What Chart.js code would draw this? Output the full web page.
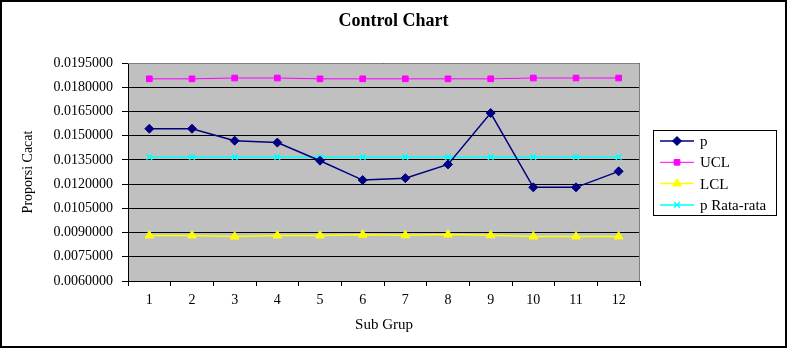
<!DOCTYPE html>
<html>
<head>
<meta charset="utf-8">
<script src="https://cdn.jsdelivr.net/npm/chart.js@4.4.0/dist/chart.umd.min.js"></script>
<style>
  html, body { margin: 0; padding: 0; background: #fff; }
  #wrap { position: relative; width: 787px; height: 348px; }
</style>
</head>
<body>
<div id="wrap"><canvas id="mainChart" width="787" height="348"></canvas></div>
<script>
const subGroups = ['1', '2', '3', '4', '5', '6', '7', '8', '9', '10', '11', '12'];
const pValues = [0.01543, 0.01543, 0.01469, 0.01457, 0.01345, 0.01225, 0.01237, 0.01322, 0.01640, 0.01180, 0.01180, 0.01279];
const uclValues = [0.01852, 0.01852, 0.01857, 0.01857, 0.01852, 0.01852, 0.01852, 0.01852, 0.01852, 0.01857, 0.01857, 0.01857];
const lclValues = [0.00882, 0.00882, 0.00875, 0.00882, 0.00882, 0.00887, 0.00883, 0.00888, 0.00883, 0.00876, 0.00876, 0.00876];
const pBarValues = [0.01368, 0.01368, 0.01368, 0.01368, 0.01368, 0.01368, 0.01368, 0.01368, 0.01368, 0.01368, 0.01368, 0.01368];
const yMin = 0.006, yMax = 0.0195, yStep = 0.0015;

const serif = "'Liberation Serif', 'Times New Roman', serif";

// grey plot background + frame and the outer border of the picture
const framePlugin = {
    id: 'frame',
    beforeDraw(chart) {
        const { ctx, chartArea: a } = chart;
        ctx.save();
        ctx.fillStyle = '#fff';
        ctx.fillRect(0, 0, chart.width, chart.height);
        ctx.fillStyle = '#c0c0c0';
        ctx.fillRect(a.left, a.top, a.right - a.left, a.bottom - a.top);
        ctx.restore();
    },
    afterDraw(chart) {
        const { ctx, chartArea: a } = chart;
        ctx.save();
        ctx.strokeStyle = '#808080';
        ctx.lineWidth = 1;
        ctx.beginPath();
        ctx.moveTo(a.left, a.top + 0.5);
        ctx.lineTo(a.right - 0.5, a.top + 0.5);
        ctx.lineTo(a.right - 0.5, a.bottom);
        ctx.stroke();
        ctx.strokeStyle = '#000';
        ctx.lineWidth = 2;
        ctx.strokeRect(1, 1, chart.width - 2, chart.height - 2);
        ctx.restore();
    }
};

// Excel style legend: line sample with marker in the middle
const legendPlugin = {
    id: 'boxLegend',
    afterDraw(chart) {
        const { ctx } = chart;
        const x = 653, y = 130, w = 123, h = 85, rowH = 21.3;
        ctx.save();
        ctx.fillStyle = '#fff';
        ctx.fillRect(x, y, w, h);
        ctx.strokeStyle = '#000';
        ctx.lineWidth = 1;
        ctx.strokeRect(x + 0.5, y + 0.5, w, h);
        chart.data.datasets.forEach((ds, i) => {
            const cy = y + 11 + i * rowH;
            ctx.strokeStyle = ds.borderColor;
            ctx.lineWidth = ds.borderWidth;
            ctx.beginPath();
            ctx.moveTo(x + 7, cy);
            ctx.lineTo(x + 41, cy);
            ctx.stroke();
            ctx.fillStyle = ds.pointBackgroundColor;
            ctx.strokeStyle = ds.pointBorderColor;
            ctx.lineWidth = ds.pointBorderWidth;
            Chart.helpers.drawPoint(ctx, {
                pointStyle: ds.pointStyle,
                radius: ds.pointRadius,
                borderWidth: ds.pointBorderWidth,
                rotation: 0
            }, x + 24, cy);
            ctx.fillStyle = '#000';
            ctx.font = '15px ' + serif;
            ctx.textBaseline = 'middle';
            ctx.textAlign = 'left';
            ctx.fillText(ds.label, x + 47, cy + 1);
        });
        ctx.restore();
    }
};

function series(label, data, color, style, radius, width) {
    return {
        label: label,
        data: data,
        borderColor: color,
        backgroundColor: color,
        pointBackgroundColor: color,
        pointBorderColor: color,
        borderWidth: width,
        pointStyle: style,
        pointRadius: radius,
        pointBorderWidth: style === 'crossRot' ? 1.5 : 1,
        tension: 0
    };
}

const chart = new Chart(document.getElementById('mainChart'), {
    type: 'line',
    data: {
        labels: subGroups,
        datasets: [
            series('p', pValues, '#000080', 'rectRot', 4.5, 1.5),
            series('UCL', uclValues, '#ff00ff', 'rect', 4, 1),
            series('LCL', lclValues, '#ffff00', 'triangle', 5, 1.5),
            series('p Rata-rata', pBarValues, '#00ffff', 'crossRot', 4, 1.5)
        ]
    },
    options: {
        responsive: false,
        animation: false,
        layout: { padding: { left: 0, right: 0, top: 0, bottom: 14 } },
        plugins: {
            legend: { display: false },
            tooltip: { enabled: false },
            title: {
                display: true,
                text: 'Control Chart',
                color: '#000',
                font: { family: serif, size: 18, weight: 'bold' },
                padding: { top: 11, bottom: 30.4 }
            }
        },
        scales: {
            x: {
                offset: true,
                afterFit(scale) { scale.height = 53; },
                grid: { display: true, offset: true, drawOnChartArea: false, drawTicks: true, tickLength: 5, color: '#000' },
                border: { display: true, color: '#000' },
                ticks: { color: '#000', padding: 6, font: { family: serif, size: 14 }, maxRotation: 0 },
                title: { display: true, text: 'Sub Grup', color: '#000', font: { family: serif, size: 15 }, padding: { top: 4, bottom: 0 } }
            },
            y: {
                min: yMin,
                max: yMax,
                afterFit(scale) { scale.width = 128; },
                grid: { color: '#000', lineWidth: 1, tickLength: 6, drawTicks: true },
                border: { display: true, color: '#000' },
                ticks: {
                    stepSize: yStep,
                    color: '#000',
                    padding: 9,
                    font: { family: serif, size: 14 },
                    callback: v => Number(v).toFixed(7)
                },
                title: { display: true, text: 'Proporsi Cacat', color: '#000', font: { family: serif, size: 14 }, padding: { top: 20, bottom: 0 } }
            },
            // empty axis that only reserves room for the legend on the right
            side: {
                position: 'right',
                display: true,
                afterFit(scale) { scale.width = 147; },
                grid: { drawOnChartArea: false, drawTicks: false },
                border: { display: false },
                ticks: { display: false }
            }
        }
    },
    plugins: [framePlugin, legendPlugin]
});
</script>
</body>
</html>
